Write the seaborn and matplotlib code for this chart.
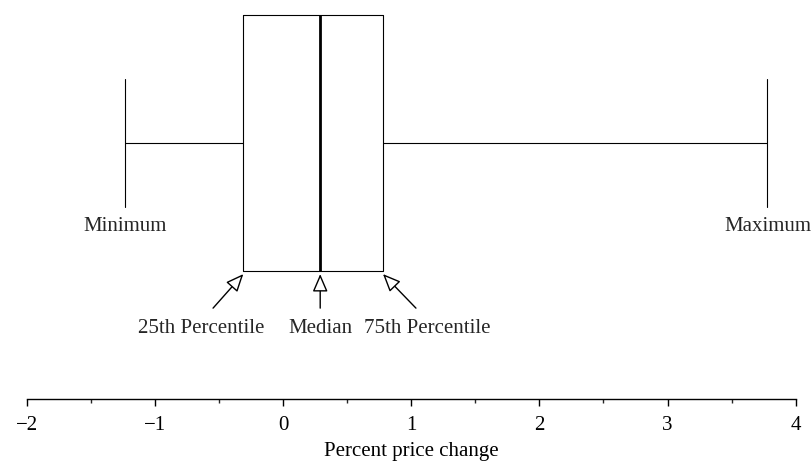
import matplotlib
matplotlib.use("Agg")
import matplotlib.pyplot as plt
import seaborn as sns
import numpy as np

# Five-number summary (percent price change)
stat_names = ["Minimum", "25th Percentile", "Median", "75th Percentile", "Maximum"]
stat_values = [-1.23, -0.31, 0.29, 0.78, 3.78]
tick_values = [-2, -1, 0, 1, 2, 3, 4]
tick_labels = ["\u22122", "\u22121", "0", "1", "2", "3", "4"]
x_label = "Percent price change"

sns.set_theme(style="white")
plt.rcParams["font.family"] = ["Liberation Serif", "DejaVu Serif"]
plt.rcParams["mathtext.fontset"] = "stix"

fig = plt.figure(figsize=(8.12, 4.62), dpi=100)
ax = fig.add_axes([0.0329, 0.1353, 0.947, 0.8647])

sns.boxplot(x=stat_values, whis=(0, 100), width=1.0, fill=False, color="black",
            linecolor="black", linewidth=0.8,
            medianprops=dict(linewidth=2.0, color="black"),
            ax=ax)

# make caps half the box width
for line in ax.lines:
    xd = np.asarray(line.get_xdata(), dtype=float)
    if len(xd) == 2 and np.isclose(xd[0], xd[1]) and (np.isclose(xd[0], stat_values[0]) or np.isclose(xd[0], stat_values[-1])):
        line.set_ydata([-0.25, 0.25])

ax.set_xlim(-2, 4)
ax.set_ylim(1.002, -0.559)
ax.set_yticks([])
ax.set_xticks(tick_values)
ax.set_xticklabels(tick_labels)
ax.set_xticks(np.arange(-1.5, 4.0, 1.0), minor=True)
ax.tick_params(axis="x", which="major", direction="out", length=4.7, width=1.0,
               pad=7, labelsize=15, bottom=True, colors="black")
ax.tick_params(axis="x", which="minor", direction="out", length=3, width=1.0, bottom=True)
for s in ["left", "top", "right"]:
    ax.spines[s].set_visible(False)
ax.spines["bottom"].set_linewidth(1.0)
ax.spines["bottom"].set_color("black")
ax.set_xlabel(x_label, fontsize=15, labelpad=5.5, color="black")

fs = 15
# min / max labels
ax.text(stat_values[0], 0.344, stat_names[0], ha="center", va="baseline", fontsize=fs)
ax.text(stat_values[-1], 0.344, stat_names[-1], ha="center", va="baseline", fontsize=fs)

arrow = dict(arrowstyle="-|>,head_length=0.72,head_width=0.31", mutation_scale=15,
             fc="white", ec="black", lw=1.0, shrinkA=0, shrinkB=0)
ax.annotate("", xy=(stat_values[1], 0.512), xytext=(-0.546, 0.645), arrowprops=arrow)
ax.annotate("", xy=(stat_values[2], 0.512), xytext=(stat_values[2], 0.645), arrowprops=arrow)
ax.annotate("", xy=(stat_values[3], 0.512), xytext=(1.037, 0.645), arrowprops=arrow)
ax.text(-0.642, 0.743, stat_names[1], ha="center", va="baseline", fontsize=fs)
ax.text(stat_values[2], 0.743, stat_names[2], ha="center", va="baseline", fontsize=fs)
ax.text(1.127, 0.743, stat_names[3], ha="center", va="baseline", fontsize=fs)

fig.savefig("out.png", dpi=100)
